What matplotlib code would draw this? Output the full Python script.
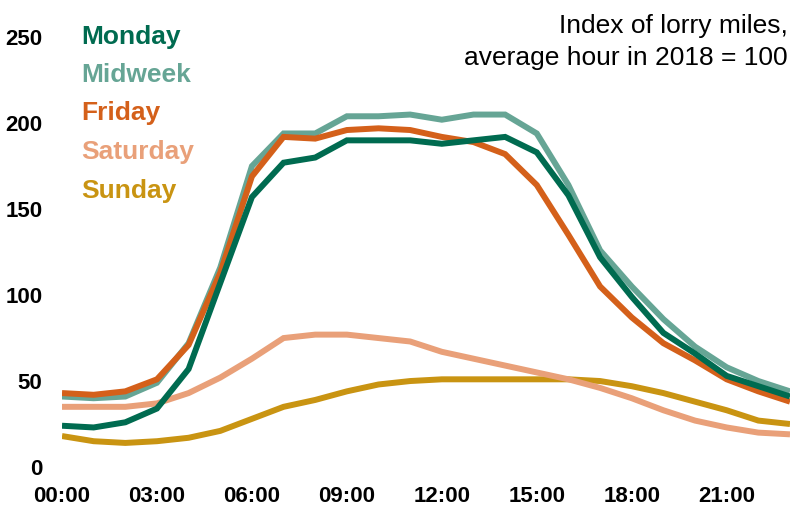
import matplotlib
matplotlib.use("Agg")
import matplotlib.pyplot as plt

plt.rcParams['font.family'] = ['Liberation Sans', 'DejaVu Sans']

hours = list(range(24))
tick_hours = [0, 3, 6, 9, 12, 15, 18, 21]
tick_labels = ["00:00", "03:00", "06:00", "09:00", "12:00", "15:00", "18:00", "21:00"]
y_ticks = [0, 50, 100, 150, 200, 250]

monday = [24, 23, 26, 34, 57, 107, 157, 177, 180, 190, 190, 190, 188, 190, 192, 183,
          158, 122, 99, 78, 66, 53, 47, 41]
midweek = [41, 40, 41, 49, 72, 116, 175, 194, 194, 204, 204, 205, 202, 205, 205, 194,
           164, 126, 105, 86, 70, 58, 50, 44]
friday = [43, 42, 44, 51, 71, 113, 169, 192, 191, 196, 197, 196, 192, 189, 182, 164,
          135, 105, 87, 72, 62, 51, 44, 38]
saturday = [35, 35, 35, 37, 43, 52, 63, 75, 77, 77, 75, 73, 67, 63, 59, 55,
            51, 46, 40, 33, 27, 23, 20, 19]
sunday = [18, 15, 14, 15, 17, 21, 28, 35, 39, 44, 48, 50, 51, 51, 51, 51,
          51, 50, 47, 43, 38, 33, 27, 25]

series = [
    ("Monday", monday, "#006B50"),
    ("Midweek", midweek, "#66A595"),
    ("Friday", friday, "#D4601A"),
    ("Saturday", saturday, "#E9A079"),
    ("Sunday", sunday, "#C99412"),
]

fig = plt.figure(figsize=(7.91, 5.07), dpi=100)
ax = fig.add_axes([62/791, 40/507, 728/791, 447/507])

lookup = {n: (v, c) for n, v, c in series}
for name in ["Sunday", "Saturday", "Midweek", "Friday", "Monday"]:
    v, c = lookup[name]
    ax.plot(hours, v, color=c, lw=4.3, solid_joinstyle='miter', solid_capstyle='butt')

ax.set_xlim(0, 23)
ax.set_ylim(0, 260)
ax.set_xticks(tick_hours)
ax.set_xticklabels(tick_labels, fontsize=16, fontweight='bold')
ax.set_yticks(y_ticks)
ax.set_yticklabels([str(t) for t in y_ticks], fontsize=16, fontweight='bold')
ax.tick_params(length=0)
ax.tick_params(axis='x', pad=14)
ax.tick_params(axis='y', pad=14)
for s in ax.spines.values():
    s.set_visible(False)

legend_y = [37, 75, 113, 152, 191]
for (name, v, c), py in zip(series, legend_y):
    fig.text(81/791, 1 - py/507, name, color=c, fontsize=19, fontweight='bold',
             ha='left', va='center')

fig.text(788/791, 1 - 26/507, "Index of lorry miles,", fontsize=19, ha='right', va='center')
fig.text(788/791, 1 - 58/507, "average hour in 2018 = 100", fontsize=19, ha='right', va='center')

fig.savefig("out.png", dpi=100)
